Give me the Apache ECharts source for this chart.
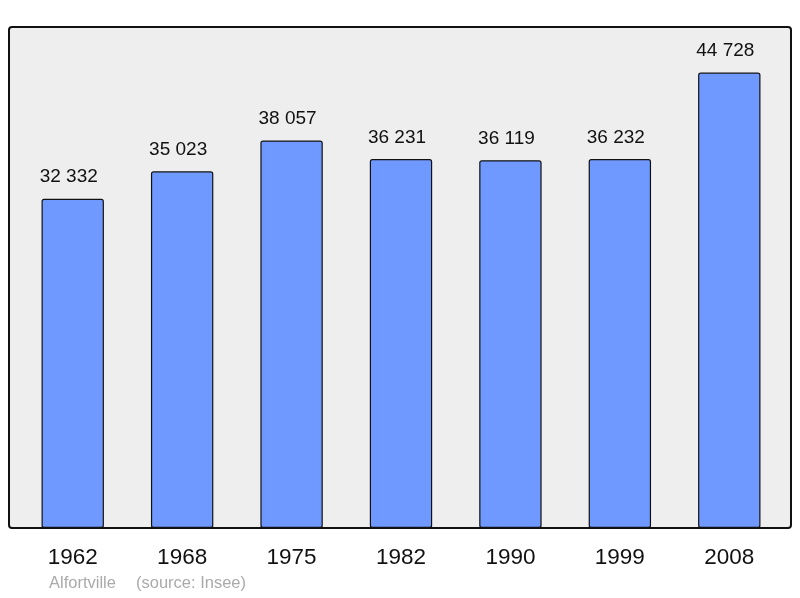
<!DOCTYPE html>
<html>
<head>
<meta charset="utf-8">
<script src="https://cdn.jsdelivr.net/npm/echarts@6/dist/echarts.min.js"></script>
<style>html,body{margin:0;padding:0;background:#fff}#c{width:800px;height:598px}</style>
</head>
<body>
<div id="c"></div>
<script>
var years = ['1962', '1968', '1975', '1982', '1990', '1999', '2008'];
var population = [32332, 35023, 38057, 36231, 36119, 36232, 44728];
var footerPlace = 'Alfortville';
var footerSource = '(source: Insee)';

function fmt(v) { return String(v).replace(/\B(?=(\d{3})+(?!\d))/g, ' '); }

var chart = echarts.init(document.getElementById('c'), null, {renderer: 'canvas'});
chart.setOption({
  animation: false,
  backgroundColor: '#ffffff',
  graphic: [
    {type: 'rect', z: -10, silent: true, shape: {x: 9, y: 27, width: 782, height: 501, r: 3},
     style: {fill: '#eeeeee', stroke: '#111111', lineWidth: 2}},
    {type: 'text', left: 49, top: 575, silent: true,
     style: {text: footerPlace, fill: '#aaaaaa', font: '16.5px "Liberation Sans", Arial, sans-serif'}},
    {type: 'text', left: 136, top: 575, silent: true,
     style: {text: footerSource, fill: '#aaaaaa', font: '16.5px "Liberation Sans", Arial, sans-serif'}}
  ],
  grid: {left: 18, right: 16, top: 27, bottom: 70, containLabel: false},
  xAxis: {
    type: 'category', data: years, boundaryGap: true,
    axisLine: {show: false}, axisTick: {show: false},
    axisLabel: {color: '#111', fontSize: 22.5, margin: 18, fontFamily: '"Liberation Sans", Arial, sans-serif'}
  },
  yAxis: {
    type: 'value', min: 0, max: 49200,
    axisLine: {show: false}, axisTick: {show: false}, axisLabel: {show: false}, splitLine: {show: false}
  },
  series: [{
    type: 'bar', data: population, barWidth: '57%',
    itemStyle: {color: '#7099ff', borderColor: '#111111', borderWidth: 1.2, borderRadius: 2},
    label: {show: true, position: 'top', distance: 12, offset: [-4, 0], color: '#111', fontSize: 19,
      fontFamily: '"Liberation Sans", Arial, sans-serif',
      formatter: function (p) { return fmt(p.value); }}
  }]
});
</script>
</body>
</html>
